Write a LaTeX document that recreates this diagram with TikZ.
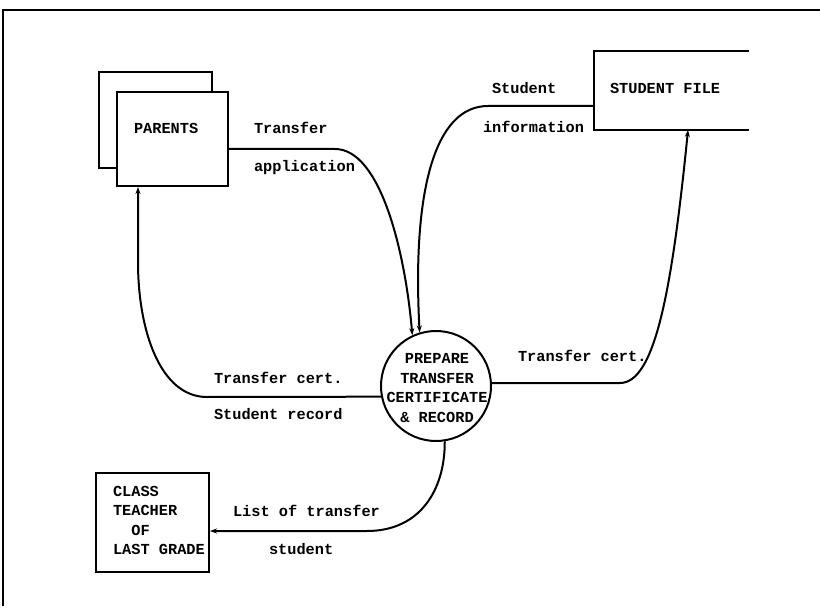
\documentclass[tikz,border=0pt]{standalone}
\usepackage{fontspec}
\setmonofont{Liberation Mono}
\usetikzlibrary{arrows.meta}
\begin{document}
\begin{tikzpicture}[x=1bp,y=-1bp,line width=2bp,
  every node/.style={font=\ttfamily\bfseries\fontsize{15.3bp}{19.5bp}\selectfont, inner sep=0pt},
  entity/.style={draw, rectangle, fill=white},
  flow/.style={-{Stealth[length=7bp,width=5bp]}},
  lbl/.style={anchor=base west}]
\useasboundingbox (0,0) rectangle (820,610);

% sheet frame
\draw (3,606) -- (3,10) -- (820,10);

% external entity: parents (duplicated)
\node[entity, minimum width=113bp, minimum height=96bp] (parentsback) at (155.5,120) {};
\node[entity, minimum width=111bp, minimum height=94bp] (parents) at (172.5,139) {};
\node[lbl] (parentstxt) at (133,134) {PARENTS};

% data store: student file (open on the right)
\node[minimum width=153bp, minimum height=77bp] (sfile) at (671.5,90.5) {};
\draw (sfile.north east) -- (sfile.north west) -- (sfile.south west) -- (sfile.south east);
\node[lbl] (sfiletxt) at (609,94) {STUDENT FILE};

% process
\node[draw, circle, minimum size=110bp] (proc) at (436,386) {};
\node[align=center] (proctxt) at (437,388) {PREPARE\\TRANSFER\\CERTIFICATE\\\& RECORD};

% external entity: class teacher
\node[entity, minimum width=113bp, minimum height=99bp] (teacher) at (152.5,522.5) {};
\node[align=left, anchor=north west] (teachertxt) at (112,485) {CLASS\\TEACHER\\\hphantom{XX}OF\\LAST GRADE};

% data flows
\draw[flow] ([yshift=-10bp]parents.east) -- (335,149)
  .. controls (380,149) and (405,250) .. (proc.115);
\draw[flow] ([yshift=-15.5bp]sfile.west) -- (488,106)
  .. controls (435,106) and (412,190) .. (proc.107);
\draw[flow] (proc.191.5) -- (207,397)
  .. controls (160,397) and (138,330) .. (138,262) -- ([xshift=-34.5bp]parents.south);
\draw[flow] (proc.3) -- (620,383)
  .. controls (655,383) and (672,290) .. ([xshift=16.5bp]sfile.south);
\draw[flow] (proc.279.4) .. controls (445,490) and (420,531) .. (367,531)
  -- ([yshift=-8.5bp]teacher.east);

% flow labels
\node[lbl] at (253,134) {Transfer};
\node[lbl] at (253,172) {application};
\node[lbl] at (491,94) {Student};
\node[lbl] at (482,133) {information};
\node[lbl] at (213,383) {Transfer cert.};
\node[lbl] at (213,419) {Student record};
\node[lbl] at (517,361) {Transfer cert.};
\node[lbl] at (232,516) {List of transfer};
\node[lbl] at (268,554) {student};
\end{tikzpicture}
\end{document}
